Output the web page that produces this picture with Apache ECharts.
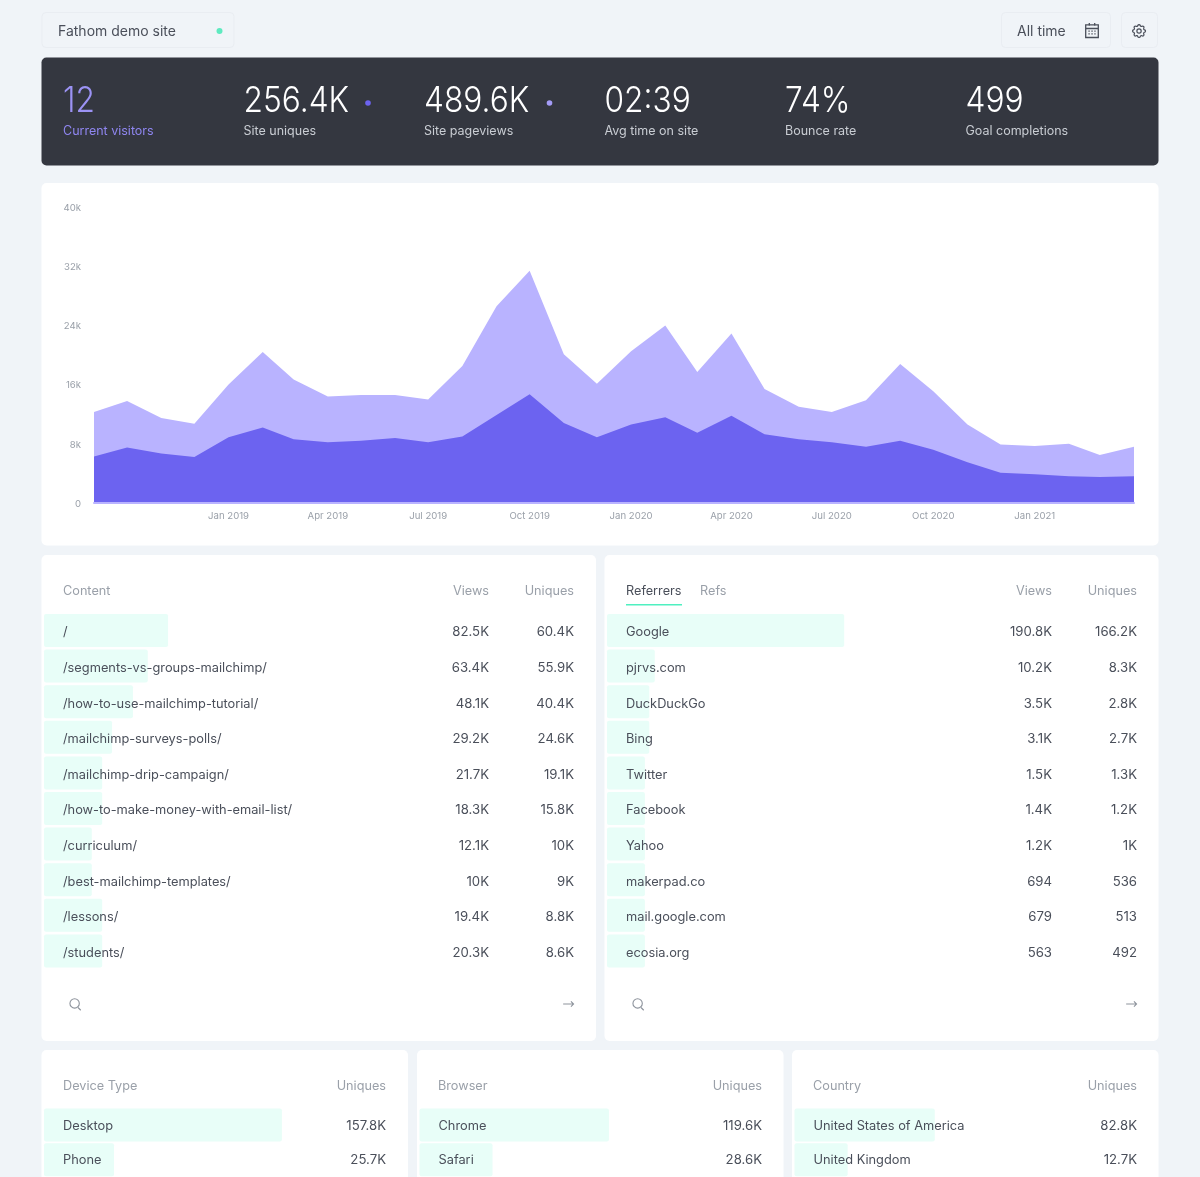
<!DOCTYPE html>
<html>
<head>
<meta charset="utf-8">
<title>Fathom demo site</title>
<script src="https://cdn.jsdelivr.net/npm/echarts@6/dist/echarts.min.js"></script>
<style>
  html, body { margin: 0; padding: 0; background: #f0f4f8; overflow: hidden; }
  #chart { width: 1200px; height: 1177px; }
</style>
</head>
<body>
<div id="chart"></div>
<script>
// traffic chart, monthly
const months = ['2018-09-01','2018-10-01','2018-11-01','2018-12-01','2019-01-01','2019-02-01','2019-03-01','2019-04-01',
  '2019-05-01','2019-06-01','2019-07-01','2019-08-01','2019-09-01','2019-10-01','2019-11-01','2019-12-01',
  '2020-01-01','2020-02-01','2020-03-01','2020-04-01','2020-05-01','2020-06-01','2020-07-01','2020-08-01',
  '2020-09-01','2020-10-01','2020-11-01','2020-12-01','2021-01-01','2021-02-01','2021-03-01','2021-04-01'];
const pageviews = [12300,13800,11500,10700,16000,20400,16700,14400,14600,14600,14000,18500,26600,31400,20100,16100,
  20500,24000,17700,22900,15400,13000,12300,13900,18800,15100,10600,7900,7700,8000,6500,7600];
const uniques = [6300,7500,6700,6200,8900,10200,8600,8200,8400,8800,8200,9000,11900,14700,10800,8900,
  10600,11600,9500,11800,9300,8600,8200,7600,8400,7200,5500,4100,3900,3600,3500,3600];
const xTicks = ['2019-01-01','2019-04-01','2019-07-01','2019-10-01','2020-01-01','2020-04-01','2020-07-01','2020-10-01','2021-01-01'];
const monthNames = ['Jan','Feb','Mar','Apr','May','Jun','Jul','Aug','Sep','Oct','Nov','Dec'];

// stat strip
const statValues = ['12','256.4K','489.6K','02:39','74%','499'];
const statLabels = ['Current visitors','Site uniques','Site pageviews','Avg time on site','Bounce rate','Goal completions'];

// tables. share = bar length in % of the row
const contentPages = ['/','/segments-vs-groups-mailchimp/','/how-to-use-mailchimp-tutorial/','/mailchimp-surveys-polls/','/mailchimp-drip-campaign/','/how-to-make-money-with-email-list/','/curriculum/','/best-mailchimp-templates/','/lessons/','/students/'];
const contentViews = ['82.5K','63.4K','48.1K','29.2K','21.7K','18.3K','12.1K','10K','19.4K','20.3K'];
const contentUniques = ['60.4K','55.9K','40.4K','24.6K','19.1K','15.8K','10K','9K','8.8K','8.6K'];
const contentShare = [22.6,18.9,16.2,12.4,10.6,10.6,8.7,8.7,10.6,10.6];

const refNames = ['Google','pjrvs.com','DuckDuckGo','Bing','Twitter','Facebook','Yahoo','makerpad.co','mail.google.com','ecosia.org'];
const refViews = ['190.8K','10.2K','3.5K','3.1K','1.5K','1.4K','1.2K','694','679','563'];
const refUniques = ['166.2K','8.3K','2.8K','2.7K','1.3K','1.2K','1K','536','513','492'];
const refShare = [43.2,8.7,7.7,7.7,6.9,6.9,6.9,6.9,6.9,6.9];

const deviceNames = ['Desktop','Phone'];
const deviceUniques = ['157.8K','25.7K'];
const deviceShare = [65.9,19.4];
const browserNames = ['Chrome','Safari'];
const browserUniques = ['119.6K','28.6K'];
const browserShare = [52.4,20.2];
const countryNames = ['United States of America','United Kingdom'];
const countryUniques = ['82.8K','12.7K'];
const countryShare = [38.8,14.7];

const FONT = 'Inter, "Noto Sans", sans-serif';
const INK = '#4a4f5a';
const MUTED = '#9aa0a9';
const ICON = '#8d939c';
const PURPLE = '#6c63f0';
const LILAC = '#b9b3ff';

// icons
echarts.graphic.registerShape('iconSearch', echarts.graphic.extendPath('M8.5 1a6.5 6.5 0 1 0 0 13a6.5 6.5 0 0 0 0-13z M13.2 13.2L17 17'));
echarts.graphic.registerShape('iconArrow', echarts.graphic.extendPath('M1 9H17 M13 5L17 9L13 13'));
echarts.graphic.registerShape('iconGear', echarts.graphic.extendPath('M10.325 4.317c.426-1.756 2.924-1.756 3.35 0a1.724 1.724 0 0 0 2.573 1.066c1.543-.94 3.31.826 2.37 2.37a1.724 1.724 0 0 0 1.065 2.572c1.756.426 1.756 2.924 0 3.35a1.724 1.724 0 0 0-1.066 2.573c.94 1.543-.826 3.31-2.37 2.37a1.724 1.724 0 0 0-2.572 1.065c-.426 1.756-2.924 1.756-3.35 0a1.724 1.724 0 0 0-2.573-1.066c-1.543.94-3.31-.826-2.37-2.37a1.724 1.724 0 0 0-1.065-2.572c-1.756-.426-1.756-2.924 0-3.35a1.724 1.724 0 0 0 1.066-2.573c-.94-1.543.826-3.31 2.37-2.37.996.608 2.296.07 2.572-1.065z M15 12a3 3 0 1 1-6 0a3 3 0 0 1 6 0z'));
echarts.graphic.registerShape('iconCal', echarts.graphic.extendPath('M2 3H16V17H2Z M2 7H16 M6 1V4 M12 1V4 M5 10H6.5 M8.3 10H9.8 M11.6 10H13 M5 13H6.5 M8.3 13H9.8 M11.6 13H13'));

const chart = echarts.init(document.getElementById('chart'), null, { renderer: 'canvas' });

const txt = (x, y, text, size, fill, align, weight) => ({
  type: 'text', x, y, silent: true,
  style: { text, fill, fontSize: size, fontFamily: FONT, fontWeight: weight || 400, align: align || 'left', verticalAlign: 'middle' }
});
const card = (x, y, w, h, fill, r) => ({
  type: 'rect', silent: true,
  shape: { x, y, width: w, height: h, r: r === undefined ? 5 : r },
  style: { fill: fill || '#fff' }
});
const box = (x, y, w, h) => ({
  type: 'rect', silent: true,
  shape: { x, y, width: w, height: h, r: 4 },
  style: { fill: 'transparent', stroke: '#e9edf2', lineWidth: 1 }
});
const dot = (cx, cy, r, fill) => ({ type: 'circle', silent: true, shape: { cx, cy, r }, style: { fill } });
const icon = (type, x, y, scale, stroke, lineWidth) => ({
  type, x, y, scaleX: scale, scaleY: scale, silent: true,
  style: { fill: 'none', stroke, lineWidth: (lineWidth || 1.1) / scale }
});

const HEAD = 12.7;
const statX = [63, 243.5, 424, 604.5, 785, 965.5];
const graphics = [
  // top bar
  box(42, 12.5, 192, 35),
  txt(58, 31.5, 'Fathom demo site', 14, INK),
  dot(219.5, 31, 3, '#5eeac0'),
  box(1001.5, 12.5, 109, 35),
  txt(1017, 31.5, 'All time', 14, INK),
  icon('iconCal', 1083.9, 22.2, 0.9, INK, 1.3),
  box(1121.5, 12.5, 36, 35),
  icon('iconGear', 1130.4, 22.4, 0.72, INK, 1.2),
  // stat strip
  card(41.5, 57.5, 1117, 108, '#343740'),
  dot(368, 103, 2.8, PURPLE),
  dot(549.5, 103, 2.8, '#a49cf7'),
  // cards
  card(41.5, 183, 1117, 362.5),
  card(41.5, 555, 554.5, 486),
  card(604.5, 555, 554, 486),
  card(41.5, 1050, 366.5, 160),
  card(417, 1050, 366.5, 160),
  card(792, 1050, 366.5, 160),
  // table headers
  txt(63, 591.5, 'Content', HEAD, MUTED),
  txt(489, 591.5, 'Views', HEAD, MUTED, 'right'),
  txt(574, 591.5, 'Uniques', HEAD, MUTED, 'right'),
  txt(626, 591.5, 'Referrers', HEAD, INK),
  txt(700, 591.5, 'Refs', HEAD, MUTED),
  { type: 'rect', silent: true, shape: { x: 626, y: 604, width: 56, height: 1.6 }, style: { fill: '#4ff0c0' } },
  txt(1052, 591.5, 'Views', HEAD, MUTED, 'right'),
  txt(1137, 591.5, 'Uniques', HEAD, MUTED, 'right'),
  txt(63, 1086, 'Device Type', HEAD, MUTED),
  txt(386, 1086, 'Uniques', HEAD, MUTED, 'right'),
  txt(438, 1086, 'Browser', HEAD, MUTED),
  txt(762, 1086, 'Uniques', HEAD, MUTED, 'right'),
  txt(813, 1086, 'Country', HEAD, MUTED),
  txt(1137, 1086, 'Uniques', HEAD, MUTED, 'right'),
  // table footers
  icon('iconSearch', 68.5, 998, 0.72, ICON),
  icon('iconArrow', 562.5, 998.2, 0.65, ICON),
  icon('iconSearch', 631.5, 998, 0.72, ICON),
  icon('iconArrow', 1125.5, 998.2, 0.65, ICON)
];
statValues.forEach((v, i) => {
  // the reference face is tighter than Inter here, squeeze the big numbers a little
  const big = txt(statX[i], 101, v, 36, i === 0 ? '#9c93f5' : '#ffffff', 'left', 300);
  big.scaleX = 0.88;
  graphics.push(big);
  graphics.push(txt(statX[i], 131, statLabels[i], 12.5, i === 0 ? '#8f86f0' : '#c9cdd3'));
});

const toMs = d => new Date(d + 'T00:00:00').getTime();

// main area chart is grid 0, its y labels sit on a copy 1px lower (grid 1).
// x is a value axis on ms, the time axis breaks on customValues
const grids = [
  { left: 94, width: 1040, top: 207, height: 296 },
  { left: 94, width: 1040, top: 208, height: 296 }
];
const xAxes = [{
  type: 'value',
  gridIndex: 0,
  z: 10,
  min: toMs(months[0]),
  max: toMs(months[months.length - 1]),
  axisLine: { show: true, onZero: false, lineStyle: { color: LILAC, width: 2 } },
  axisTick: { show: false },
  splitLine: { show: false },
  axisLabel: {
    customValues: xTicks.map(toMs),
    formatter: v => { const d = new Date(v); return monthNames[d.getMonth()] + ' ' + d.getFullYear(); },
    color: MUTED, fontSize: 9.6, fontFamily: FONT, margin: 8.5, hideOverlap: false
  }
}, { type: 'value', gridIndex: 1, min: 0, max: 1, show: false }];
const yAxes = [{
  type: 'value', gridIndex: 0, min: 0, max: 40000, interval: 8000, show: false
}, {
  type: 'value',
  gridIndex: 1,
  min: 0, max: 40000, interval: 8000,
  axisLine: { show: false }, axisTick: { show: false }, splitLine: { show: false },
  axisLabel: {
    formatter: v => v === 0 ? '0' : (v / 1000) + 'k',
    color: MUTED, fontSize: 9.6, fontFamily: FONT, margin: 13
  }
}];
const zip = arr => arr.map((v, i) => [toMs(months[i]), v]);
const area = (name, arr, color, z) => ({
  type: 'line', name, xAxisIndex: 0, yAxisIndex: 0, data: zip(arr), showSymbol: false, z, silent: true,
  lineStyle: { width: 0 }, areaStyle: { color, opacity: 1 }, itemStyle: { color }
});
const series = [area('Pageviews', pageviews, LILAC, 2), area('Uniques', uniques, PURPLE, 3)];

// each table: a grid with the bar series, and a second one 2px lower holding the text columns
function addTable(left, top, width, rowCount, names, share, columns) {
  const g = grids.length;
  const height = rowCount * 35.6;
  grids.push({ left, top, width, height }, { left, top: top + 2, width, height });
  const barX = xAxes.length;
  xAxes.push({ type: 'value', gridIndex: g, min: 0, max: 100, show: false });
  xAxes.push({ type: 'value', gridIndex: g + 1, min: 0, max: 100, show: false });
  const barY = yAxes.length;
  yAxes.push({ type: 'category', gridIndex: g, data: names, inverse: true, show: false });
  const labelAxis = (data, position, margin, fontSize) => ({
    type: 'category', gridIndex: g + 1, data, inverse: true, position, z: 6,
    axisLine: { show: false }, axisTick: { show: false }, splitLine: { show: false },
    axisLabel: { inside: true, margin, interval: 0, color: INK, fontSize, fontFamily: FONT }
  });
  yAxes.push(labelAxis(names, 'left', 19, 12.8));
  columns.forEach(c => yAxes.push(labelAxis(c.values, 'right', c.margin, 13.2)));
  series.push({
    type: 'bar', xAxisIndex: barX, yAxisIndex: barY, data: share, barWidth: 33, silent: true,
    itemStyle: { color: '#e8fef8', borderRadius: 2 }
  });
}
addTable(44, 612.7, 549, 10, contentPages, contentShare, [{ values: contentUniques, margin: 19 }, { values: contentViews, margin: 104 }]);
addTable(607, 612.7, 549, 10, refNames, refShare, [{ values: refUniques, margin: 19 }, { values: refViews, margin: 104 }]);
addTable(44, 1107.6, 361, 2, deviceNames, deviceShare, [{ values: deviceUniques, margin: 19 }]);
addTable(419.5, 1107.6, 361.5, 2, browserNames, browserShare, [{ values: browserUniques, margin: 19 }]);
addTable(794.5, 1107.6, 361.5, 2, countryNames, countryShare, [{ values: countryUniques, margin: 19 }]);

chart.setOption({
  animation: false,
  backgroundColor: '#f0f4f8',
  textStyle: { fontFamily: FONT },
  graphic: { elements: graphics },
  grid: grids,
  xAxis: xAxes,
  yAxis: yAxes,
  series
});

window.addEventListener('resize', () => chart.resize());
</script>
</body>
</html>
